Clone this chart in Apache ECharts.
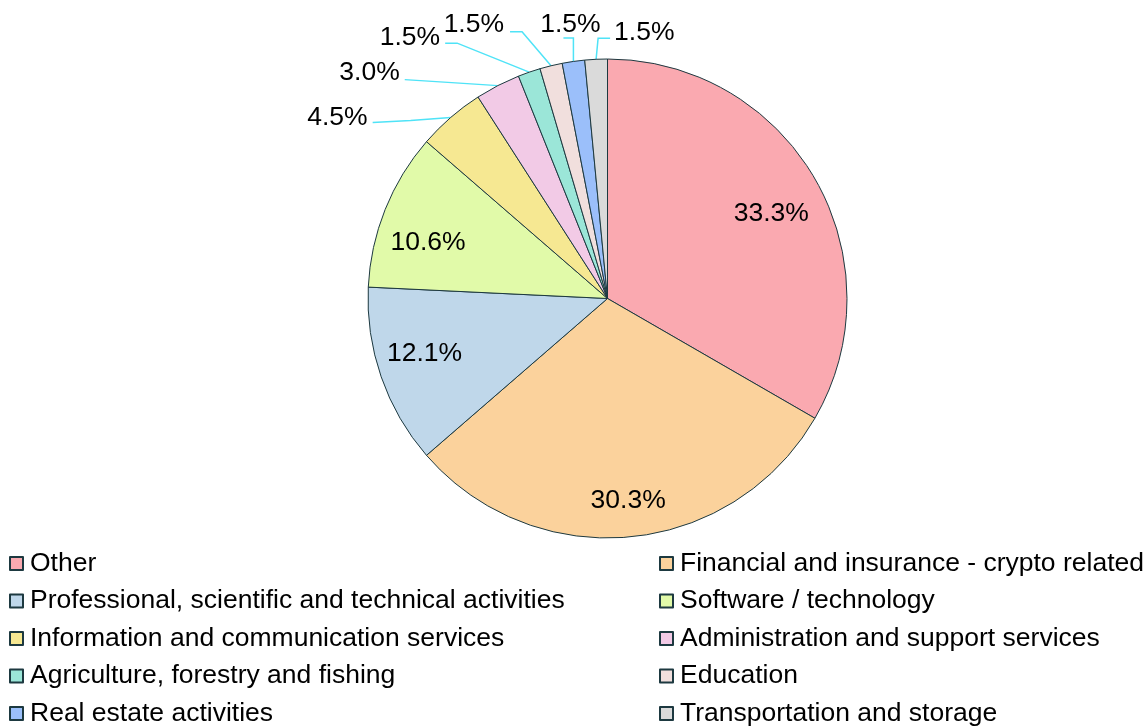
<!DOCTYPE html>
<html>
<head>
<meta charset="utf-8">
<script src="https://cdn.jsdelivr.net/npm/echarts@6/dist/echarts.min.js"></script>
<style>
html,body{margin:0;padding:0;background:#fff;}
#chart{width:1148px;height:726px;}
</style>
</head>
<body>
<div id="chart"></div>
<script>
// ---- data ----
const categories = [
  'Other',
  'Financial and insurance - crypto related',
  'Professional, scientific and technical activities',
  'Software / technology',
  'Information and communication services',
  'Administration and support services',
  'Agriculture, forestry and fishing',
  'Education',
  'Real estate activities',
  'Transportation and storage'
];
const counts = [22, 20, 8, 7, 3, 2, 1, 1, 1, 1];
const percentLabels = ['33.3%', '30.3%', '12.1%', '10.6%', '4.5%', '3.0%', '1.5%', '1.5%', '1.5%', '1.5%'];

// ---- styles ----
const colors = ['#FAA9B0', '#FBD29C', '#BFD7EA', '#E1FAA9', '#F6E892', '#F2CAE6', '#9BE6D8', '#F1DFDD', '#9BBFFA', '#DADADA'];
const CX = 607.5, CY = 298.5, R = 239.5;
const FONT_SIZE = 26.5;
const insideCount = 4;
// inside label offsets from the default (half-radius) label position
const insideOffsets = [[57.5, -23], [9, 80], [-67, 15], [-65.5, -10]];
// outside label leader-line layout, offsets relative to slice edge point
const outsideLayout = {
  4: { bend: [-40, 3],   end: [-78, 5],    label: [-83, 0.5], align: 'right' },
  5: { bend: [-46, -3],  end: [-93, -6],   label: [-98, -12.5], align: 'right' },
  6: { bend: [-72, -29], end: [-84, -29],  label: [-89, -34],  align: 'right' },
  7: { bend: [-29, -34], end: [-41, -34],  label: [-47, -41.5], align: 'right' },
  8: { bend: [0, -23.5], end: [-10, -23.5], label: [-3, -36.5], align: 'center' },
  9: { bend: [2, -21],   end: [14, -21],   label: [18, -27],   align: 'left' }
};

const chart = echarts.init(document.getElementById('chart'), null, { renderer: 'canvas' });
const font = '"Liberation Sans", Arial, sans-serif';

const seriesData = categories.map((name, i) => ({
  name: name,
  value: counts[i],
  itemStyle: { color: colors[i] },
  label: { position: i < insideCount ? 'inside' : 'outside' },
  labelLine: { show: i >= insideCount }
}));

const leftNames = categories.filter((_, i) => i % 2 === 0);
const rightNames = categories.filter((_, i) => i % 2 === 1);

const legendCommon = {
  orient: 'vertical',
  top: 550,
  height: 200,
  padding: 0,
  icon: 'rect',
  itemWidth: 13,
  itemHeight: 13,
  itemGap: 10.5,
  textStyle: { fontFamily: font, fontSize: FONT_SIZE, color: '#000', padding: [0, 0, 0, 2] }
};

chart.setOption({
  animation: false,
  backgroundColor: '#fff',
  legend: [
    Object.assign({ left: 9, data: leftNames }, legendCommon),
    Object.assign({ left: 659, data: rightNames }, legendCommon)
  ],
  series: [{
    type: 'pie',
    center: [CX, CY],
    radius: [0, R],
    startAngle: 90,
    clockwise: true,
    avoidLabelOverlap: false,
    itemStyle: { borderColor: '#1d3940', borderWidth: 1 },
    emphasis: { disabled: true },
    label: {
      formatter: p => percentLabels[p.dataIndex],
      fontFamily: font,
      fontSize: FONT_SIZE,
      color: '#000'
    },
    labelLine: {
      length: 20,
      length2: 10,
      lineStyle: { color: '#4FE3F7', width: 1.5 }
    },
    labelLayout: function (params) {
      const i = params.dataIndex;
      const r = params.labelRect;
      if (i < insideCount) {
        const o = insideOffsets[i];
        return {
          x: r.x + r.width / 2 + o[0],
          y: r.y + r.height / 2 + o[1],
          align: 'center',
          verticalAlign: 'middle'
        };
      }
      const L = outsideLayout[i];
      const pts = params.labelLinePoints;
      if (!L || !pts) return {};
      const e = pts[0];
      return {
        x: e[0] + L.label[0],
        y: e[1] + L.label[1],
        align: L.align,
        verticalAlign: 'middle',
        labelLinePoints: [
          [e[0], e[1]],
          [e[0] + L.bend[0], e[1] + L.bend[1]],
          [e[0] + L.end[0], e[1] + L.end[1]]
        ]
      };
    },
    data: seriesData
  }]
});
</script>
</body>
</html>
